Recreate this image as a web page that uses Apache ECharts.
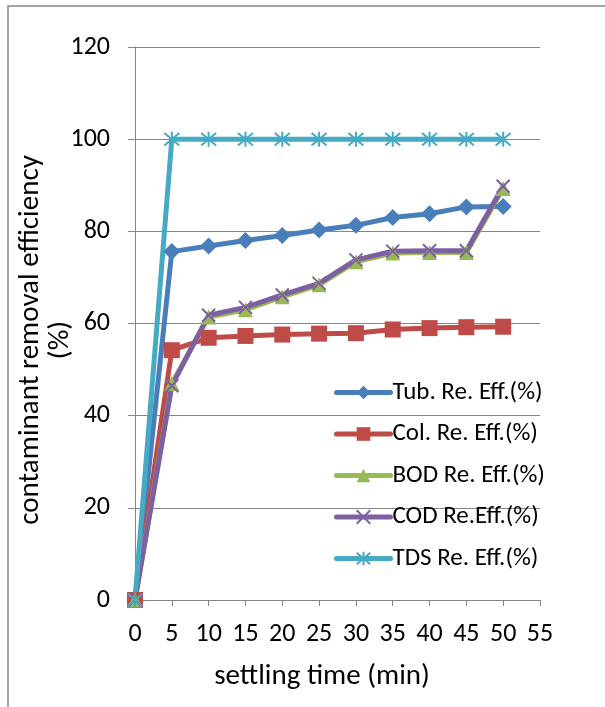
<!DOCTYPE html>
<html>
<head>
<meta charset="utf-8">
<script src="https://cdn.jsdelivr.net/npm/echarts@6/dist/echarts.min.js"></script>
<style>
  html, body { margin: 0; padding: 0; background: #fff; }
  #chart { width: 605px; height: 707px; }
</style>
</head>
<body>
<div id="chart"></div>
<script>
// Settling time (min) and removal efficiency (%) per contaminant
var settlingTime = [0, 5, 10, 15, 20, 25, 30, 35, 40, 45, 50];
var tubEff = [0, 75.6, 76.8, 78.0, 79.1, 80.3, 81.3, 83.0, 83.8, 85.3, 85.4];
var colEff = [0, 54.2, 56.9, 57.3, 57.6, 57.8, 57.9, 58.7, 59.0, 59.2, 59.3];
var bodEff = [0, 47.0, 61.4, 63.0, 65.8, 68.4, 73.4, 75.3, 75.4, 75.4, 89.3];
var codEff = [0, 46.5, 61.8, 63.5, 66.2, 68.7, 73.8, 75.7, 75.8, 75.8, 89.8];
var tdsEff = [0, 100, 100, 100, 100, 100, 100, 100, 100, 100, 100];
var seriesNames = ['Tub. Re. Eff.(%)', 'Col. Re. Eff.(%)', 'BOD Re. Eff.(%)', 'COD Re.Eff.(%)', 'TDS Re. Eff.(%)'];

var FONT = 'Carlito, Lato, sans-serif';
var AXIS_GRAY = '#868686';

function pairs(values) {
  return settlingTime.map(function (t, i) { return [t, values[i]]; });
}

function lineSeries(name, values, color, symbol, size, strokeOnly) {
  return {
    name: name,
    type: 'line',
    data: pairs(values),
    symbol: symbol,
    symbolSize: size,
    showAllSymbol: true,
    lineStyle: { color: color, width: 5, cap: 'round', join: 'round' },
    itemStyle: strokeOnly
      ? { color: 'rgba(0,0,0,0)', borderColor: color, borderWidth: 2 }
      : { color: color, borderColor: color, borderWidth: 0 },
    emphasis: { disabled: true },
    animation: false
  };
}

var chart = echarts.init(document.getElementById('chart'), null, { renderer: 'canvas' });

chart.setOption({
  backgroundColor: '#ffffff',
  animation: false,
  grid: { left: 135, right: 65, top: 47, bottom: 107, containLabel: false },
  xAxis: {
    type: 'value',
    min: 0,
    max: 55,
    interval: 5,
    axisLine: { show: true, lineStyle: { color: AXIS_GRAY, width: 1 } },
    axisTick: { show: true, inside: false, length: 6, lineStyle: { color: AXIS_GRAY } },
    splitLine: { show: false },
    axisLabel: { color: '#000', fontSize: 26, fontFamily: FONT, margin: 21 }
  },
  yAxis: {
    type: 'value',
    min: 0,
    max: 120,
    interval: 20,
    axisLine: { show: true, lineStyle: { color: AXIS_GRAY, width: 1 } },
    axisTick: { show: true, inside: false, length: 7, lineStyle: { color: AXIS_GRAY } },
    splitLine: { show: true, lineStyle: { color: AXIS_GRAY, width: 1 } },
    axisLabel: { color: '#000', fontSize: 26, fontFamily: FONT, margin: 25 }
  },
  legend: {
    orient: 'vertical',
    left: 329,
    top: 375,
    itemWidth: 54,
    itemHeight: 17,
    itemGap: 16.5,
    selectedMode: false,
    backgroundColor: 'transparent',
    lineStyle: { width: 5, cap: 'round' },
    textStyle: { color: '#000', fontSize: 25, fontFamily: FONT, padding: [0, 0, 0, -3] },
    data: seriesNames
  },
  series: [
    lineSeries(seriesNames[0], tubEff, '#4A7EBB', 'diamond', 17, false),
    lineSeries(seriesNames[1], colEff, '#BE4B48', 'rect', 16, false),
    lineSeries(seriesNames[2], bodEff, '#98B954', 'triangle', 15, false),
    lineSeries(seriesNames[3], codEff, '#7D60A0', 'path://M0 0L10 10M10 0L0 10', 13, true),
    lineSeries(seriesNames[4], tdsEff, '#46AAC5', 'path://M0 0L10 10M10 0L0 10M5 -1L5 11', 15, true)
  ],
  graphic: [
    {
      type: 'rect',
      shape: { x: 8, y: 6, width: 640, height: 760 },
      style: { fill: 'none', stroke: AXIS_GRAY, lineWidth: 1.5 },
      silent: true,
      z: -1
    },
    {
      type: 'text',
      x: 46,
      y: 340,
      rotation: Math.PI / 2,
      style: {
        text: 'contaminant removal efficiency\n(%)',
        fontSize: 29,
        fontFamily: FONT,
        fill: '#000',
        align: 'center',
        verticalAlign: 'middle',
        lineHeight: 30
      },
      silent: true
    },
    {
      type: 'text',
      x: 322,
      y: 677,
      style: {
        text: 'settling time (min)',
        fontSize: 29,
        fontFamily: FONT,
        fill: '#000',
        align: 'center',
        verticalAlign: 'middle'
      },
      silent: true
    }
  ]
});
</script>
</body>
</html>
